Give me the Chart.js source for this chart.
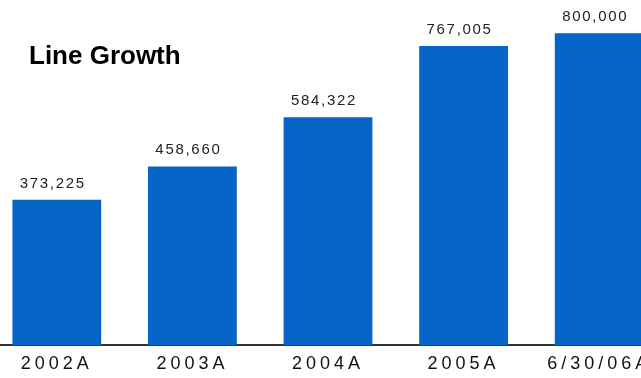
<!DOCTYPE html>
<html>
<head>
<meta charset="utf-8">
<title>Line Growth</title>
<script src="https://cdn.jsdelivr.net/npm/chart.js@4/dist/chart.umd.min.js"></script>
<style>
  html, body { margin: 0; padding: 0; background: #fff; overflow: hidden; }
  body { width: 641px; height: 378px; position: relative; }
  #growthChart { position: absolute; left: -11px; top: 0; }
</style>
</head>
<body>
<canvas id="growthChart" width="678" height="386"></canvas>
<script>
const categories = ['2002A', '2003A', '2004A', '2005A', '6/30/06A'];
const lineCounts = [373225, 458660, 584322, 767005, 800000];
const chartTitle = 'Line Growth';

// title + value labels drawn on the canvas, ticks get the wide letter spacing
const extrasPlugin = {
    id: 'extras',
    beforeDraw(chart) {
        chart.ctx.letterSpacing = '4px';
    },
    afterDatasetsDraw(chart) {
        const ctx = chart.ctx;
        const meta = chart.getDatasetMeta(0);
        ctx.save();
        ctx.letterSpacing = '1.7px';
        ctx.font = '15px "Liberation Sans", Arial, sans-serif';
        ctx.fillStyle = '#222';
        ctx.textAlign = 'center';
        ctx.textBaseline = 'alphabetic';
        meta.data.forEach(function (bar, i) {
            ctx.fillText(lineCounts[i].toLocaleString('en-US'), bar.x - 4, bar.y - 12);
        });
        ctx.restore();
    },
    afterDraw(chart) {
        const ctx = chart.ctx;
        ctx.save();
        ctx.letterSpacing = '0px';
        ctx.font = 'bold 26px "Liberation Sans", Arial, sans-serif';
        ctx.fillStyle = '#000';
        ctx.textAlign = 'left';
        ctx.textBaseline = 'alphabetic';
        ctx.fillText(chartTitle, 40, 64);
        ctx.restore();
    }
};

new Chart(document.getElementById('growthChart').getContext('2d'), {
    type: 'bar',
    data: {
        labels: categories,
        datasets: [{
            data: lineCounts,
            backgroundColor: '#0566C8',
            borderWidth: 0,
            categoryPercentage: 1,
            barPercentage: 0.655
        }]
    },
    options: {
        responsive: false,
        animation: false,
        layout: { padding: { top: 0, left: 0, right: 0, bottom: 3 } },
        plugins: {
            legend: { display: false },
            title: { display: false },
            tooltip: { enabled: false }
        },
        scales: {
            x: {
                grid: { display: false, drawTicks: false },
                border: { display: true, color: '#333', width: 2 },
                ticks: {
                    padding: 8,
                    color: '#111',
                    font: { family: '"Liberation Sans", Arial, sans-serif', size: 18 }
                }
            },
            y: {
                display: false,
                min: 0,
                max: 885000
            }
        }
    },
    plugins: [extrasPlugin]
});
</script>
</body>
</html>
